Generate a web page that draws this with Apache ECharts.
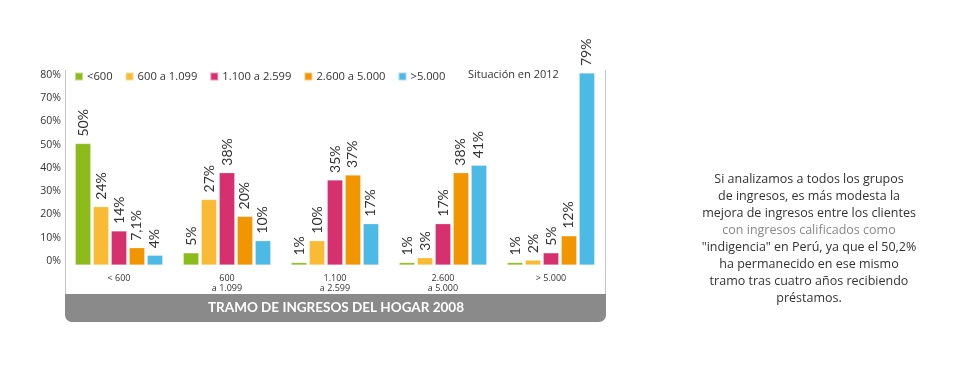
<!DOCTYPE html>
<html>
<head>
<meta charset="utf-8">
<script src="https://cdn.jsdelivr.net/npm/echarts@6/dist/echarts.min.js"></script>
<style>
html,body{margin:0;padding:0;background:#fff;}
#c{width:960px;height:366px;}
</style>
</head>
<body>
<div id="c"></div>
<script>
var categories = ['< 600', '600\na 1.099', '1.100\na 2.599', '2.600\na 5.000', '> 5.000'];
var seriesNames = ['<600', '600 a 1.099', '1.100 a 2.599', '2.600 a 5.000', '>5.000'];
var s600 = [50, 5, 1, 1, 1];
var s1099 = [24, 27, 10, 3, 2];
var s2599 = [14, 38, 35, 17, 5];
var s5000 = [7.1, 20, 37, 38, 12];
var sOver = [4, 10, 17, 41, 79];
var yTicks = [0, 10, 20, 30, 40, 50, 60, 70, 80];
var colors = ['#8cbb1b', '#f9bb35', '#d6306e', '#f19500', '#4db9e5'];
var noteLines = [
  'Si analizamos a todos los grupos',
  'de ingresos, es más modesta la',
  'mejora de ingresos entre los clientes',
  'con ingresos calificados como',
  '"indigencia" en Perú, ya que el 50,2%',
  'ha permanecido en ese mismo',
  'tramo tras cuatro años recibiendo',
  'préstamos.'
];

var FONT = '"Open Sans", Lato, sans-serif';
var LFONT = 'Lato, "Open Sans", sans-serif';
var chart = echarts.init(document.getElementById('c'));
var allSeries = [s600, s1099, s2599, s5000, sOver];

var graphics = [
  {type:'line', shape:{x1:65.5,y1:70,x2:65.5,y2:295}, style:{stroke:'#c4c4c4', lineWidth:1}},
  {type:'line', shape:{x1:605.5,y1:70,x2:605.5,y2:295}, style:{stroke:'#c4c4c4', lineWidth:1}},
  {type:'rect', shape:{x:65, y:294, width:541, height:28, r:[0,0,7,7]}, style:{fill:'#8a8a8b'}},
  {type:'text', x:336, y:308, style:{text:'TRAMO DE INGRESOS DEL HOGAR 2008', fill:'#fff', font:'bold 13.5px ' + LFONT, textAlign:'center', textVerticalAlign:'middle'}},
  {type:'text', x:468, y:75, style:{text:'Situación en 2012', fill:'#333', font:'11px ' + FONT, textAlign:'left', textVerticalAlign:'middle'}}
];
noteLines.forEach(function(t, i){
  graphics.push({type:'text', x:809, y:179 + i*17, style:{text:t, fill: i===3 ? '#888' : '#333', font:'12.5px ' + FONT, textAlign:'center', textVerticalAlign:'middle'}});
});

chart.setOption({
  animation:false,
  grid:[
    {left:65, right:355, top:70.6, bottom:101},
    {left:65, right:355, top:75, bottom:105}
  ],
  legend:{
    left:74, top:71, padding:0, itemWidth:8, itemHeight:8, itemGap:12, icon:'rect',
    textStyle:{fontFamily:FONT, fontSize:11.2, color:'#333', padding:[0,0,0,-1]},
    data:seriesNames
  },
  xAxis:[{
    gridIndex:0, type:'category', data:categories,
    axisLine:{show:false}, axisTick:{show:false},
    axisLabel:{fontFamily:FONT, fontSize:9, color:'#333', margin:8, lineHeight:10}
  },{
    gridIndex:1, type:'category', data:categories, show:false
  }],
  yAxis:[{
    gridIndex:0, type:'value', min:0, max:80, interval:10,
    axisLine:{show:false}, axisTick:{show:false}, splitLine:{show:false}, axisLabel:{show:false}
  },{
    gridIndex:1, type:'value', min:0, max:80, interval:10,
    axisLine:{show:false}, axisTick:{show:false}, splitLine:{show:false},
    axisLabel:{fontFamily:FONT, fontSize:10.5, color:'#333', margin:4,
      formatter:function(v){ return yTicks.indexOf(v) >= 0 ? v + '%' : ''; }}
  }],
  series: allSeries.map(function(d, i){
    return {
      name:seriesNames[i], type:'bar', data:d, barWidth:15.5, barGap:'16%',
      xAxisIndex:0, yAxisIndex:0,
      itemStyle:{color:colors[i], borderColor:'rgba(255,255,255,0.5)', borderWidth:0.5},
      label:{show:true, position:'top', rotate:90, align:'left', verticalAlign:'middle', distance:7,
        fontFamily:LFONT, fontSize:14, color:'#333',
        formatter:function(p){ return String(p.value).replace('.', ',') + '%'; }}
    };
  }),
  graphic:graphics
});
</script>
</body>
</html>
